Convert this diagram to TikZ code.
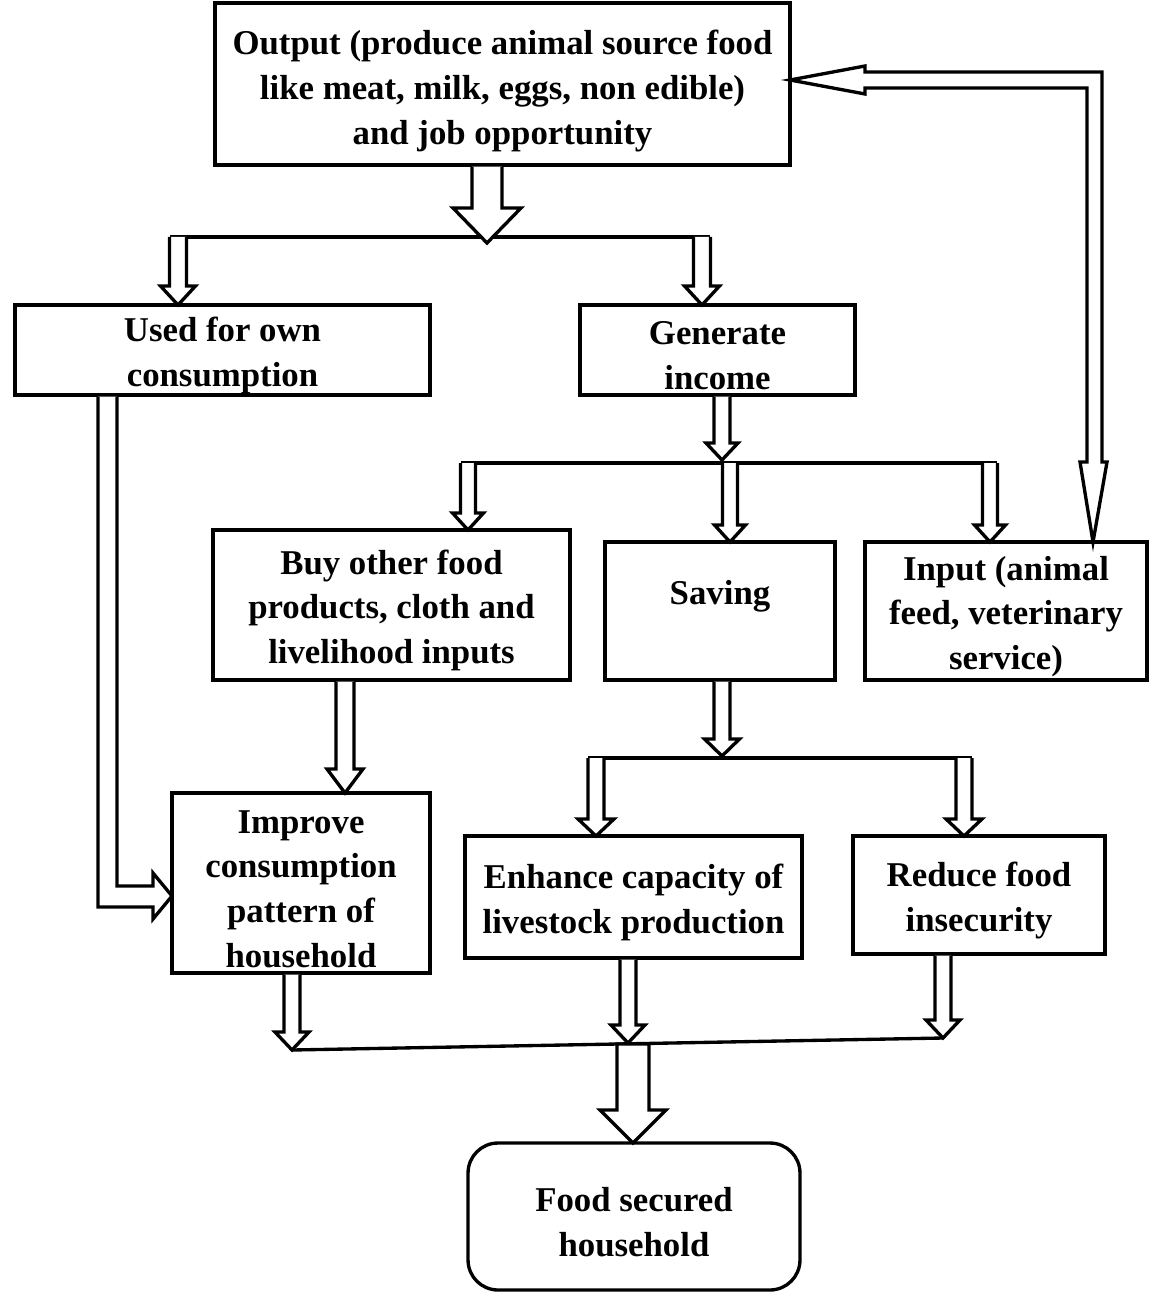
\documentclass[tikz,border=0pt]{standalone}
\usepackage{fontspec}
\setmainfont{Liberation Serif}
\usetikzlibrary{calc}
\newcommand{\blkdown}[6]{\filldraw[blkarrow] ($(#2 |- #1)+(-#3,0)$) -- ($(#2)+(-#3,-#5)$) -- ($(#2)+(-#4,-#5)$) -- (#2) -- ($(#2)+(#4,-#5)$) -- ($(#2)+(#3,-#5)$) -- ($(#2 |- #1)+(#3,0)$) #6;}
\newcommand{\tstrut}[1][20pt]{\rule{0pt}{#1}}
\begin{document}
\begin{tikzpicture}[x=0.02cm, y=-0.02cm]
        \tikzstyle{box}=[draw, line width=1.9pt, align=center, inner sep=0pt, font=\fontsize{19.8}{25.5}\selectfont\bfseries]
        \tikzstyle{blkarrow}=[draw=black, fill=white, line width=1.9pt, line join=miter]
        \tikzstyle{conn}=[line width=1.9pt]
        \useasboundingbox (0,0) rectangle (1155,1293);
        \node[box, minimum width=11.5cm, minimum height=3.24cm] (out) at (502.5,84) {\tstrut[22pt]Output (produce animal source food\\like meat, milk, eggs, non edible)\\and job opportunity};
        \node[box, minimum width=8.3cm, minimum height=1.8cm] (own) at (222.5,350) {\tstrut Used for own\\consumption};
        \node[box, minimum width=5.5cm, minimum height=1.8cm] (gen) at (717.5,350) {\tstrut Generate\\income};
        \node[box, minimum width=7.14cm, minimum height=3cm] (buy) at (391.5,605) {\tstrut Buy other food\\products, cloth and\\livelihood inputs};
        \node[box, minimum width=4.6cm, minimum height=2.76cm] (sav) at (720,611) {\raisebox{0.76cm}{Saving}};
        \node[box, minimum width=5.64cm, minimum height=2.76cm] (inp) at (1006,611) {\tstrut Input (animal\\feed, veterinary\\service)};
        \node[box, minimum width=5.16cm, minimum height=3.6cm] (imp) at (301,883) {\tstrut Improve\\consumption\\pattern of\\household};
        \node[box, minimum width=6.74cm, minimum height=2.44cm] (enh) at (633.5,897) {\tstrut Enhance capacity of\\livestock production};
        \node[box, minimum width=5.04cm, minimum height=2.36cm] (red) at (979,895) {\tstrut Reduce food\\insecurity};
        \node[box, rounded corners=0.6cm, minimum width=6.64cm, minimum height=2.94cm] (food) at (634,1216.5) {\tstrut Food secured\\household};
        \coordinate (o1) at (487,243);
        \coordinate (l1a) at (170,237);
        \coordinate (l1b) at (710,237);
        \coordinate (a1) at (178,305);
        \coordinate (a2) at (702,305);
        \coordinate (g1) at (722,460);
        \coordinate (l2a) at (461,463);
        \coordinate (l2b) at (997,463);
        \coordinate (b1) at (468,530);
        \coordinate (b2) at (730,542);
        \coordinate (b3) at (990,542);
        \coordinate (c1) at (345,793);
        \coordinate (s1) at (722,756);
        \coordinate (l3a) at (588,758);
        \coordinate (l3b) at (972,758);
        \coordinate (d1) at (596,836);
        \coordinate (d2) at (964,836);
        \coordinate (e1) at (292,1050);
        \coordinate (e2) at (628,1043);
        \coordinate (e3) at (943,1038);
        \coordinate (f0) at (633,1044);
        \coordinate (f1) at (633,1143);
        \coordinate (k1) at (98,907);
        \coordinate (k2) at (117,886);
        \coordinate (h1) at (172,896);
        \coordinate (i1) at (1093,542);
        \coordinate (o2) at (790,80);
        \coordinate (fb1) at (1102,72);
        \coordinate (fb2) at (1087,88);
        \draw[conn] (l1a) -- (l1b);
        \draw[conn] (l2a) -- (l2b);
        \draw[conn] (l3a) -- (l3b);
        \draw[conn] (e1) -- (e3);
        \blkdown{out.south}{o1}{15}{34}{35}{}
        \blkdown{l1a}{a1}{8.5}{17.5}{19}{}
        \blkdown{l1a}{a2}{8.5}{17.5}{19}{}
        \blkdown{gen.south}{g1}{8}{16}{17}{}
        \blkdown{l2a}{b1}{7.5}{15.5}{17}{}
        \blkdown{l2a}{b2}{7.5}{15.5}{17}{}
        \blkdown{l2a}{b3}{7.5}{15.5}{17}{}
        \blkdown{buy.south}{c1}{9}{18}{24}{}
        \blkdown{sav.south}{s1}{8}{17.5}{17}{}
        \blkdown{l3a}{d1}{8}{18}{17}{}
        \blkdown{l3a}{d2}{8}{18}{17}{}
        \blkdown{f0}{f1}{16}{33}{33}{-- cycle}
        \blkdown{imp.south}{e1}{8}{17}{18}{}
        \blkdown{enh.south}{e2}{8}{17}{18}{}
        \blkdown{red.south}{e3}{8}{17}{18}{}
        \filldraw[blkarrow] (k1 |- own.south) -- (k1) -- ($(h1)+(-19,11)$) -- ($(h1)+(-19,23)$) -- (h1) -- ($(h1)+(-19,-23)$) -- ($(h1)+(-19,-10)$) -- (k2) -- (k2 |- own.south);
        \filldraw[blkarrow] (i1) -- ++(14,-80) -- ++(-5,0) -- (fb1) -- ($(o2)+(75,-8)$) -- ++(0,-6) -- (o2) -- ($(o2)+(75,14)$) -- ++(0,-6) -- (fb2) -- (fb2 |- 0,462) -- ++(-7,0) -- cycle;
    \end{tikzpicture}
\end{document}
